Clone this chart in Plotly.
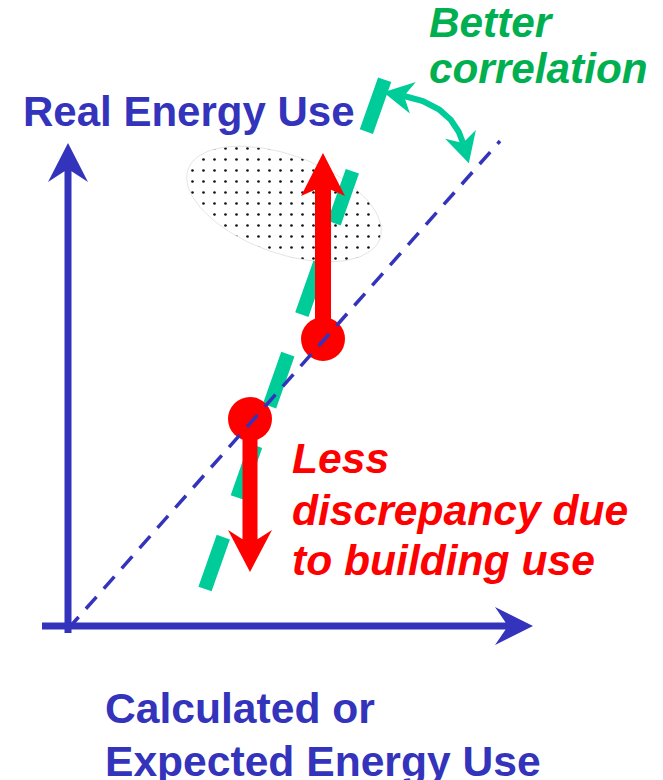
import numpy as np
import plotly.graph_objects as go

# ---------------- data (diagram units: x to the right, y downward) ----------------
x_axis_x = [42, 533]
x_axis_y = [626, 626]
y_axis_x = [68, 68]
y_axis_y = [633, 143]
diagonal_x = [68, 500]          # ideal 1:1 line
diagonal_y = [629, 141]
correlation_x = [205, 386]      # better-correlation line
correlation_y = [589, 76]
building_x = [323, 250]         # two buildings on the 1:1 line
building_y = [339, 419]
real_use_y = [153, 572]         # where real energy use ends up
spread_center = [284, 204]
spread_radii = [102, 49]
spread_tilt_deg = 20
bend_x = [404, 452, 463]        # curved double arrow (start, control, end)
bend_y = [96, 105, 143]

label_text = ["Real Energy Use", "Better", "correlation", "Less",
              "discrepancy due", "to building use", "Calculated or",
              "Expected Energy Use"]
label_x = [21, 427, 427, 290, 290, 290, 103, 103]
label_y = [111, 22, 68, 458, 510, 560, 708, 761]
label_kind = ["axis", "green", "green", "red", "red", "red", "axis", "axis"]
label_size = [42, 42.3, 42.3, 42.6, 42.6, 42.6, 42.6, 42.6]

# ---------------- styles ----------------
W, H = 663, 780
BLUE = "#3333BB"
RED = "#FF0000"
GREEN_LINE = "#00CC99"
GREEN_TEXT = "#00B050"
FONT = "Liberation Sans, Arial, sans-serif"


def arrow_polygon(x0, y0, x1, y1, shaft, head_w, head_len, notch):
    dx, dy = x1 - x0, y1 - y0
    L = np.hypot(dx, dy)
    ux, uy = dx / L, dy / L
    nx, ny = -uy, ux
    bx, by = x1 - ux * head_len, y1 - uy * head_len
    cx, cy = x1 - ux * (head_len - notch), y1 - uy * (head_len - notch)
    f = shaft / head_w
    jx, jy = cx + f * (bx - cx), cy + f * (by - cy)
    s, h = shaft / 2, head_w / 2
    pts = [(x0 + nx * s, y0 + ny * s), (jx + nx * s, jy + ny * s),
           (bx + nx * h, by + ny * h), (x1, y1),
           (bx - nx * h, by - ny * h), (jx - nx * s, jy - ny * s),
           (x0 - nx * s, y0 - ny * s), (x0 + nx * s, y0 + ny * s)]
    return [p[0] for p in pts], [p[1] for p in pts]


def head_polygon(nx0, ny0, ux, uy, head_len, head_w, notch):
    tx, ty = nx0 + ux * (head_len - notch), ny0 + uy * (head_len - notch)
    bx, by = tx - ux * head_len, ty - uy * head_len
    px, py = -uy, ux
    h = head_w / 2
    pts = [(tx, ty), (bx + px * h, by + py * h), (nx0, ny0),
           (bx - px * h, by - py * h), (tx, ty)]
    return [p[0] for p in pts], [p[1] for p in pts]


fig = go.Figure()

# dotted spread ellipse
th = np.linspace(0, 2 * np.pi, 120)
a, b = spread_radii
phi = np.deg2rad(spread_tilt_deg)
ex = spread_center[0] + a * np.cos(th) * np.cos(phi) - b * np.sin(th) * np.sin(phi)
ey = spread_center[1] + a * np.cos(th) * np.sin(phi) + b * np.sin(th) * np.cos(phi)
fig.add_trace(go.Scatter(
    x=ex, y=ey, mode="lines", fill="toself",
    line=dict(color="#DDDDDD", width=0.8),
    fillcolor="white",
    fillpattern=dict(shape=".", size=11, solidity=0.045,
                     fgcolor="#111111", bgcolor="white", fillmode="replace"),
    hoverinfo="skip"))

# green dashed correlation line
fig.add_trace(go.Scatter(
    x=correlation_x, y=correlation_y, mode="lines",
    line=dict(color=GREEN_LINE, width=14, dash="55px,42px"),
    hoverinfo="skip"))

# curved double arrow
t = np.linspace(0, 1, 50)
P0 = np.array([bend_x[0], bend_y[0]])
C = np.array([bend_x[1], bend_y[1]])
P2 = np.array([bend_x[2], bend_y[2]])
curve = ((1 - t) ** 2)[:, None] * P0 + (2 * (1 - t) * t)[:, None] * C + (t ** 2)[:, None] * P2
fig.add_trace(go.Scatter(x=curve[:, 0], y=curve[:, 1], mode="lines",
                         line=dict(color=GREEN_LINE, width=6), hoverinfo="skip"))
for end, ctrl in ((P0, C), (P2, C)):
    u = end - ctrl
    u = u / np.hypot(*u)
    hx, hy = head_polygon(end[0], end[1], u[0], u[1], 30, 32, 9)
    fig.add_trace(go.Scatter(x=hx, y=hy, mode="lines", fill="toself",
                             fillcolor=GREEN_LINE, line=dict(width=0, color=GREEN_LINE),
                             hoverinfo="skip"))

# red arrows
for bx_, by_, ry in zip(building_x, building_y, real_use_y):
    up = ry < by_
    ax_, ay_ = arrow_polygon(bx_, by_, bx_, ry, 16 if up else 15, 44,
                             43 if up else 42, 10 if up else 14)
    fig.add_trace(go.Scatter(x=ax_, y=ay_, mode="lines", fill="toself",
                             fillcolor=RED, line=dict(width=0, color=RED),
                             hoverinfo="skip"))
fig.add_trace(go.Scatter(x=building_x, y=building_y, mode="markers",
                         marker=dict(size=44, color=RED, line=dict(width=0)),
                         hoverinfo="skip"))

# blue dashed 1:1 line
fig.add_trace(go.Scatter(x=diagonal_x, y=diagonal_y, mode="lines",
                         line=dict(color=BLUE, width=3.5, dash="16px,11px"),
                         hoverinfo="skip"))

# axes arrows
for xs, ys, hl, hw, nt in ((x_axis_x, x_axis_y, 38, 38, 13),
                           (y_axis_x, y_axis_y, 39, 40, 13)):
    ax_, ay_ = arrow_polygon(xs[0], ys[0], xs[1], ys[1], 7, hw, hl, nt)
    fig.add_trace(go.Scatter(x=ax_, y=ay_, mode="lines", fill="toself",
                             fillcolor=BLUE, line=dict(width=0, color=BLUE),
                             hoverinfo="skip"))

colors = {"axis": BLUE, "green": GREEN_TEXT, "red": RED}
for txt, lx, ly, kind, fs in zip(label_text, label_x, label_y, label_kind, label_size):
    fig.add_annotation(
        x=lx, y=ly, xref="x", yref="y", text=txt, showarrow=False,
        xanchor="left", yanchor="middle",
        font=dict(family=FONT, size=fs, color=colors[kind], weight="bold",
                  style="normal" if kind == "axis" else "italic"))

fig.update_layout(
    width=W, height=H, margin=dict(l=0, r=0, t=0, b=0),
    paper_bgcolor="white", plot_bgcolor="white", showlegend=False,
    xaxis=dict(range=[0, W], visible=False, fixedrange=True),
    yaxis=dict(range=[H, 0], visible=False, fixedrange=True),
)

fig.write_html(
    "out.html", config={"displayModeBar": False},
    post_script="document.body.style.margin='0';document.body.style.overflow='hidden';")
